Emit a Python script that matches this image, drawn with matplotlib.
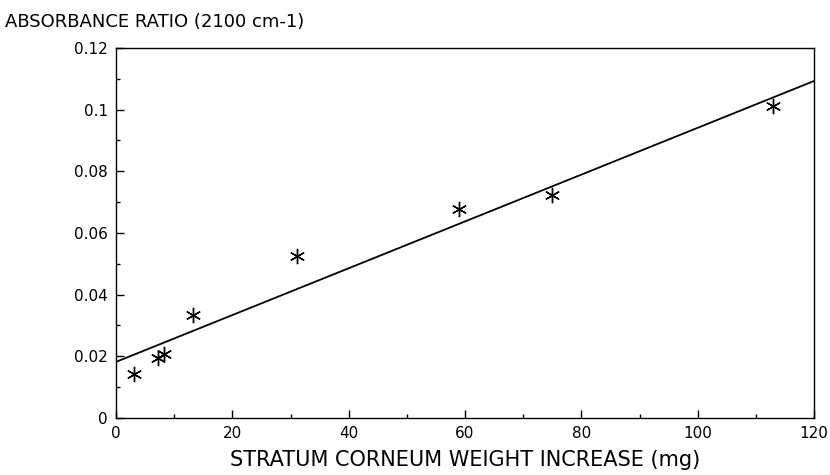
import matplotlib
matplotlib.use("Agg")
import matplotlib.pyplot as plt
import numpy as np
from matplotlib.ticker import MultipleLocator

# Data
weight_mg = [3.1, 7.2, 8.2, 13.2, 31.1, 59.0, 75.0, 113.0]
absorbance = [0.0143, 0.0195, 0.0208, 0.0334, 0.0525, 0.0678, 0.0723, 0.1012]

# Fitted line endpoints (x from 0 to 120)
fit_x = [0, 120]
fit_y = [0.0182, 0.1093]

plt.rcParams['font.family'] = ['DejaVu Sans']

fig = plt.figure(figsize=(8.3, 4.75), dpi=100)
ax = fig.add_axes([0.1398, 0.12, 0.841, 0.779])

ax.plot(fit_x, fit_y, color='black', linewidth=1.3)
ax.plot(weight_mg, absorbance, linestyle='none', marker=(6, 2, 0),
        markersize=11, markeredgewidth=1.0, color='black')

ax.set_xlim(0, 120)
ax.set_ylim(0, 0.12)
ax.xaxis.set_major_locator(MultipleLocator(20))
ax.xaxis.set_minor_locator(MultipleLocator(10))
ax.yaxis.set_minor_locator(MultipleLocator(0.01))
ax.set_yticks([0, 0.02, 0.04, 0.06, 0.08, 0.1, 0.12])
ax.set_yticklabels(['0', '0.02', '0.04', '0.06', '0.08', '0.1', '0.12'])
ax.tick_params(which='major', direction='in', length=6, width=1.0,
               labelsize=11, pad=6)
ax.tick_params(which='minor', direction='in', length=3, width=1.0)
for s in ax.spines.values():
    s.set_linewidth(1.0)

ax.set_xlabel('STRATUM CORNEUM WEIGHT INCREASE (mg)', fontsize=15, labelpad=6)
fig.text(0.006, 0.954, 'ABSORBANCE RATIO (2100 cm-1)', fontsize=13,
         ha='left', va='center')

fig.savefig('out.png', dpi=100)
